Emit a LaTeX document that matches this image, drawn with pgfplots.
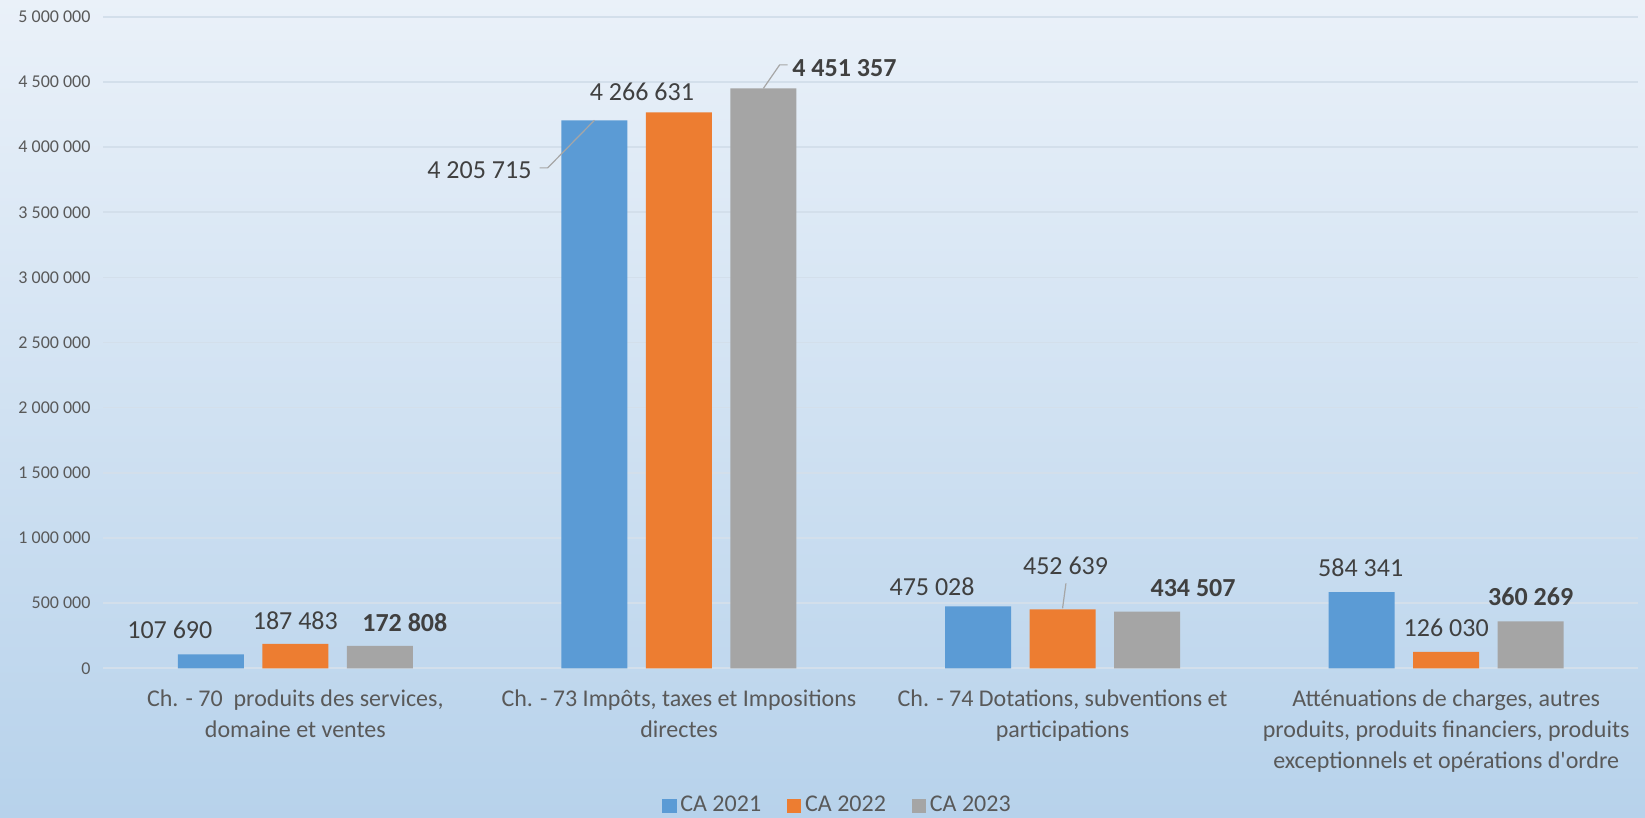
\documentclass[border=0pt]{standalone}
\usepackage{pgfplots}
\pgfplotsset{compat=1.18}
\usepackage{pgfplotstable}
\usepackage{fontspec}
\setmainfont{Carlito}
\definecolor{cblue}{HTML}{5B9BD5}
\definecolor{corange}{HTML}{ED7D31}
\definecolor{cgray}{HTML}{A5A5A5}
\definecolor{bgtop}{HTML}{EAF1F9}
\definecolor{bgbot}{HTML}{B7D2EB}
\definecolor{gridc}{HTML}{D3DFEB}
\definecolor{txt}{HTML}{404040}
\definecolor{tickc}{HTML}{595959}
\definecolor{leaderc}{HTML}{A6A6A6}

% dx, dy: label centre offset from bar top (in px of the reference, 1px = 0.5pt)
\pgfplotstableread{
x y dx dy lab
0 107690 -41 24 107~690
1 4205715 -115 -50 4~205~715
2 475028 -46 20 475~028
3 584341 -1 24.5 584~341
}\tblue
\pgfplotstableread{
x y dx dy lab
0 187483 0 23 187~483
1 4266631 -37 20.5 4~266~631
2 452639 3 44 452~639
3 126030 0 24 126~030
}\torange
\pgfplotstableread{
x y dx dy lab
0 172808 25 23.5 172~808
1 4451357 81 20.3 4~451~357
2 434507 46 23.7 434~507
3 360269 0 25 360~269
}\tgray

\pgfplotsset{
  lblstyle/.style={
    point meta=explicit symbolic,
    nodes near coords,
    visualization depends on={\thisrow{dx} \as \ldx},
    visualization depends on={\thisrow{dy} \as \ldy},
    every node near coord/.append style={anchor=center, xshift={\ldx*0.5pt}, yshift={\ldy*0.5pt},
      font=\fontsize{13}{15}\selectfont, text=txt, inner sep=0pt},
  },
}

\begin{document}
\begin{tikzpicture}
\shade[top color=bgtop, bottom color=bgbot] (-51.75pt,-74.85pt) rectangle (770.75pt,334.15pt);
\begin{axis}[
  at={(0,0)}, anchor=south west,
  scale only axis, width=767.25pt, height=325.75pt,
  xmin=-0.5, xmax=3.5, ymin=0, ymax=5000000,
  ybar, bar width=33pt,
  axis line style={draw=none},
  major tick length=0pt,
  ymajorgrids, major grid style={draw=gridc, line width=0.8pt},
  ytick={0,500000,1000000,1500000,2000000,2500000,3000000,3500000,4000000,4500000,5000000},
  scaled y ticks=false,
  yticklabel={\pgfmathprintnumber[fixed,precision=0,1000 sep={\ },assume math mode=true]{\tick}},
  yticklabel style={font=\fontsize{9}{10}\selectfont, text=tickc, xshift=-3pt},
  xtick={0,1,2,3},
  xticklabels={{Ch. - 70\ \ produits des services,\\domaine et ventes},
               {Ch. - 73 Impôts, taxes et Impositions\\directes},
               {Ch. - 74 Dotations, subventions et\\participations},
               {Atténuations de charges, autres\\produits, produits financiers, produits\\exceptionnels et opérations d\textquotesingle ordre}},
  xticklabel style={align=center, font=\fontsize{12}{15.5}\selectfont, text=tickc, yshift=-7pt},
  legend style={at={(0.479,-0.2107)}, anchor=center, draw=none, fill=none,
    legend columns=3, font=\fontsize{12}{14}\selectfont, text=tickc,
    /tikz/every even column/.append style={column sep=11pt}},
]
\addplot[fill=cblue, draw=none, bar shift=-42.25pt, forget plot, lblstyle] table[x=x, y=y, meta=lab] {\tblue};
\addplot[fill=corange, draw=none, bar shift=0pt, forget plot, lblstyle] table[x=x, y=y, meta=lab] {\torange};
\addplot[fill=cgray, draw=none, bar shift=42.25pt, forget plot, lblstyle,
  every node near coord/.append style={font=\fontsize{13}{15}\selectfont\bfseries}] table[x=x, y=y, meta=lab] {\tgray};
\addlegendimage{legend image code/.code={\fill[cblue] (0pt,-3.3pt) rectangle (6.6pt,3.3pt);}}
\addlegendentry{CA 2021}
\addlegendimage{legend image code/.code={\fill[corange] (0pt,-3.3pt) rectangle (6.6pt,3.3pt);}}
\addlegendentry{CA 2022}
\addlegendimage{legend image code/.code={\fill[cgray] (0pt,-3.3pt) rectangle (6.6pt,3.3pt);}}
\addlegendentry{CA 2023}
% leader lines
\draw[leaderc, line width=0.6pt] ([xshift=-42.25pt]axis cs:1,4205715) -- ++(-23.4pt,-23.8pt) -- ++(-4pt,0pt);
\draw[leaderc, line width=0.6pt] ([xshift=42.25pt]axis cs:1,4451357) -- ++(8.1pt,11.7pt) -- ++(4pt,0pt);
\draw[leaderc, line width=0.6pt] ([yshift=0.5pt]axis cs:2,452639) -- ++(1.7pt,12.5pt);
\end{axis}
\pgfresetboundingbox
\useasboundingbox (-51.75pt,-74.85pt) rectangle (770.75pt,334.15pt);
\end{tikzpicture}
\end{document}
